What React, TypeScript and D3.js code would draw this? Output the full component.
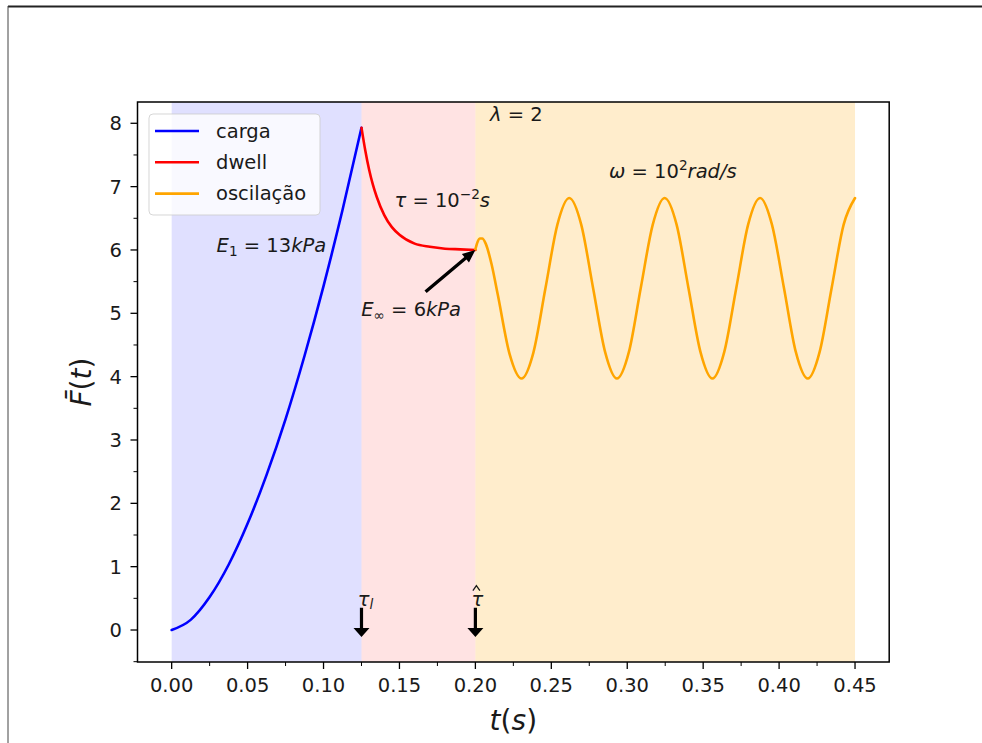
import React from "react";
import * as d3 from "d3";

// load phase (carga)
const cargaT = [0, 0.0125, 0.025, 0.0375, 0.05, 0.0625, 0.075, 0.0875, 0.1, 0.1125, 0.125];
const cargaF = [0, 0.16, 0.52, 1.03, 1.68, 2.45, 3.33, 4.33, 5.43, 6.63, 7.93];

// dwell phase (relaxation)
const dwellT = [0.125, 0.1275, 0.13, 0.1325, 0.135, 0.14, 0.145, 0.15, 0.16, 0.17, 0.18, 0.19, 0.2];
const dwellF = [7.93, 7.57, 7.27, 7.03, 6.84, 6.55, 6.36, 6.24, 6.1, 6.05, 6.02, 6.01, 6.0];

// oscillation phase
const oscT = [
  0.2, 0.2015, 0.203, 0.2045, 0.2068, 0.2107, 0.2147, 0.2225, 0.2304, 0.2382, 0.2461, 0.254,
  0.2618, 0.2697, 0.2775, 0.2854, 0.2932, 0.3011, 0.3089, 0.3168, 0.3246, 0.3325, 0.3403,
  0.3482, 0.3561, 0.3639, 0.3718, 0.3796, 0.3875, 0.3953, 0.4032, 0.411, 0.4189, 0.4267,
  0.4346, 0.4425, 0.45,
];
const oscF = [
  6.01, 6.13, 6.18, 6.18, 6.1, 5.77, 5.3, 4.36, 3.97, 4.38, 5.39, 6.4,
  6.82, 6.4, 5.4, 4.39, 3.97, 4.39, 5.4, 6.4, 6.82, 6.4, 5.4,
  4.39, 3.97, 4.39, 5.4, 6.4, 6.82, 6.4, 5.4, 4.39, 3.97, 4.39,
  5.4, 6.4, 6.82,
];

const regionStart = [0, 0.125, 0.2];
const regionEnd = [0.125, 0.2, 0.45];

const legendLabels = ["carga", "dwell", "oscilação"];
const xTicks = [0, 0.05, 0.1, 0.15, 0.2, 0.25, 0.3, 0.35, 0.4, 0.45];
const xTickLabels = ["0.00", "0.05", "0.10", "0.15", "0.20", "0.25", "0.30", "0.35", "0.40", "0.45"];
const xMinor = [0.025, 0.075, 0.125, 0.175, 0.225, 0.275, 0.325, 0.375, 0.425];
const yTicks = [0, 1, 2, 3, 4, 5, 6, 7, 8];
const yMinor = [-0.5, 0.5, 1.5, 2.5, 3.5, 4.5, 5.5, 6.5, 7.5];

const lineColors = ["#0000ff", "#ff0000", "#ffa500"];
const spanColors = ["rgba(0,0,255,0.12)", "rgba(255,0,0,0.11)", "rgba(255,165,0,0.2)"];

const W = 982;
const H = 743;
const FONT = "DejaVu Sans";
const FS = 19.5;

function arrowPoints(x1: number, y1: number, x2: number, y2: number, sw: number, hw: number, hl: number) {
  const dx = x2 - x1, dy = y2 - y1;
  const L = Math.hypot(dx, dy);
  const ux = dx / L, uy = dy / L;
  const px = -uy, py = ux;
  const bx = x2 - ux * hl, by = y2 - uy * hl;
  const pts = [
    [x1 + (px * sw) / 2, y1 + (py * sw) / 2],
    [bx + (px * sw) / 2, by + (py * sw) / 2],
    [bx + (px * hw) / 2, by + (py * hw) / 2],
    [x2, y2],
    [bx - (px * hw) / 2, by - (py * hw) / 2],
    [bx - (px * sw) / 2, by - (py * sw) / 2],
    [x1 - (px * sw) / 2, y1 - (py * sw) / 2],
  ];
  return pts.map((p) => p.join(",")).join(" ");
}

export default function App() {
  const x = d3.scaleLinear().domain([-0.0225, 0.4725]).range([137.5, 889.2]);
  const y = d3.scaleLinear().domain([-0.505, 8.336]).range([662, 102]);
  const [x0, x1] = x.range();
  const [y0, y1] = y.range();

  const makeLine = (T: number[]) =>
    d3
      .line<number>()
      .x((_, i) => x(T[i]))
      .y((d) => y(d))
      .curve(d3.curveMonotoneX);

  const series = [
    { T: cargaT, F: cargaF },
    { T: dwellT, F: dwellF },
    { T: oscT, F: oscF },
  ];

  // annotation arrows (data coords)
  const einfArrow = arrowPoints(x(0.1672), y(5.34), x(0.2), y(6.0), 3.4, 11, 13);
  const downArrows = [0.125, 0.2].map((t) => arrowPoints(x(t), y(0.35), x(t), y(-0.11), 3.2, 16, 9));
  const hatX = x(0.2) + 1;
  const hatY = y(0.7);

  return (
    <svg
      width={W}
      height={H}
      style={{ position: "absolute", left: 0, top: 0, background: "#fff" }}
      fontFamily={FONT}
    >
      <defs>
        <clipPath id="plot">
          <rect x={x0} y={y1} width={x1 - x0} height={y0 - y1} />
        </clipPath>
      </defs>

      {/* page frame */}
      <line x1={8} y1={6.5} x2={W} y2={6.5} stroke="#222" strokeWidth={2} />
      <line x1={8} y1={6} x2={8} y2={H} stroke="#444" strokeWidth={1} />

      {/* phase spans */}
      {regionStart.map((s, i) => (
        <rect
          key={"span" + i}
          x={x(s)}
          y={y1}
          width={x(regionEnd[i]) - x(s)}
          height={y0 - y1}
          fill={spanColors[i]}
        />
      ))}

      {/* curves */}
      <g clipPath="url(#plot)">
        {series.map((s, i) => (
          <path
            key={"l" + i}
            d={makeLine(s.T)(s.F) || ""}
            fill="none"
            stroke={lineColors[i]}
            strokeWidth={2.6}
            strokeLinejoin="round"
            strokeLinecap="round"
          />
        ))}
      </g>

      {/* annotations */}
      <text x={x(0.0296)} y={y(5.97)} fontSize={FS} fill="#1a1a1a">
        <tspan fontStyle="italic">E</tspan>
        <tspan fontSize={FS * 0.7} dy={4}>1</tspan>
        <tspan dy={-4}> = 13</tspan>
        <tspan fontStyle="italic">kPa</tspan>
      </text>

      <text x={x(0.1467)} y={y(6.68)} fontSize={FS} fill="#1a1a1a">
        <tspan fontStyle="italic">τ</tspan>
        <tspan> = 10</tspan>
        <tspan fontSize={FS * 0.7} dy={-8}>−2</tspan>
        <tspan fontStyle="italic" dy={8}>s</tspan>
      </text>

      <text x={x(0.1248)} y={y(4.96)} fontSize={FS} fill="#1a1a1a">
        <tspan fontStyle="italic">E</tspan>
        <tspan fontSize={FS * 0.7} dy={4}>∞</tspan>
        <tspan dy={-4}> = 6</tspan>
        <tspan fontStyle="italic">kPa</tspan>
      </text>
      <polygon points={einfArrow} fill="#000" />

      <text x={x(0.2096)} y={y(8.03)} fontSize={FS} fill="#1a1a1a">
        <tspan fontStyle="italic">λ</tspan>
        <tspan> = 2</tspan>
      </text>

      <text x={x(0.288)} y={y(7.13)} fontSize={FS} fill="#1a1a1a">
        <tspan fontStyle="italic">ω</tspan>
        <tspan> = 10</tspan>
        <tspan fontSize={FS * 0.7} dy={-8}>2</tspan>
        <tspan fontStyle="italic" dy={8}>rad/s</tspan>
      </text>

      {/* markers at tau_l and tau-hat */}
      <text x={x(0.1225)} y={y(0.38)} fontSize={FS} fill="#1a1a1a">
        <tspan fontStyle="italic">τ</tspan>
        <tspan fontStyle="italic" fontSize={FS * 0.7} dy={3}>l</tspan>
      </text>
      <text x={x(0.1975)} y={y(0.38)} fontSize={FS} fill="#1a1a1a" fontStyle="italic">
        τ
      </text>
      <polyline
        points={`${hatX - 3.5},${hatY + 5} ${hatX},${hatY} ${hatX + 3.5},${hatY + 5}`}
        fill="none"
        stroke="#1a1a1a"
        strokeWidth={1.3}
      />
      {downArrows.map((p, i) => (
        <polygon key={"da" + i} points={p} fill="#000" />
      ))}

      {/* legend */}
      <g>
        <rect
          x={149}
          y={114}
          width={171}
          height={101}
          rx={4}
          fill="#fff"
          fillOpacity={0.8}
          stroke="#cccccc"
          strokeOpacity={0.8}
        />
        {legendLabels.map((lab, i) => {
          const ly = 131 + i * 31.3;
          return (
            <g key={"lg" + i}>
              <line x1={155} x2={199} y1={ly} y2={ly} stroke={lineColors[i]} strokeWidth={2.6} />
              <text x={216} y={ly + 6.5} fontSize={FS} fill="#1a1a1a">
                {lab}
              </text>
            </g>
          );
        })}
      </g>

      {/* axes ticks */}
      {xTicks.map((t, i) => (
        <g key={"xt" + i}>
          <line x1={x(t)} x2={x(t)} y1={y0} y2={y0 + 7} stroke="#000" strokeWidth={1.3} />
          <text x={x(t)} y={692} fontSize={FS} textAnchor="middle" fill="#1a1a1a">
            {xTickLabels[i]}
          </text>
        </g>
      ))}
      {xMinor.map((t, i) => (
        <line key={"xm" + i} x1={x(t)} x2={x(t)} y1={y0} y2={y0 + 4} stroke="#000" strokeWidth={1} />
      ))}
      {yTicks.map((v, i) => (
        <g key={"yt" + i}>
          <line x1={x0 - 7} x2={x0} y1={y(v)} y2={y(v)} stroke="#000" strokeWidth={1.3} />
          <text x={122} y={y(v) + 7.1} fontSize={FS} textAnchor="end" fill="#1a1a1a">
            {v}
          </text>
        </g>
      ))}
      {yMinor.map((v, i) => (
        <line key={"ym" + i} x1={x0 - 4} x2={x0} y1={y(v)} y2={y(v)} stroke="#000" strokeWidth={1} />
      ))}

      {/* frame */}
      <rect x={x0} y={y1} width={x1 - x0} height={y0 - y1} fill="none" stroke="#000" strokeWidth={1.5} />

      {/* axis labels */}
      <text x={(x0 + x1) / 2} y={730} fontSize={28} textAnchor="middle" fill="#1a1a1a">
        <tspan fontStyle="italic">t</tspan>
        <tspan>(</tspan>
        <tspan fontStyle="italic">s</tspan>
        <tspan>)</tspan>
      </text>
      <g transform={`translate(91, ${(y0 + y1) / 2}) rotate(-90)`}>
        <text x={0} y={0} fontSize={28} textAnchor="middle" fill="#1a1a1a">
          <tspan fontStyle="italic">F̄</tspan>
          <tspan>(</tspan>
          <tspan fontStyle="italic">t</tspan>
          <tspan>)</tspan>
        </text>
      </g>
    </svg>
  );
}
